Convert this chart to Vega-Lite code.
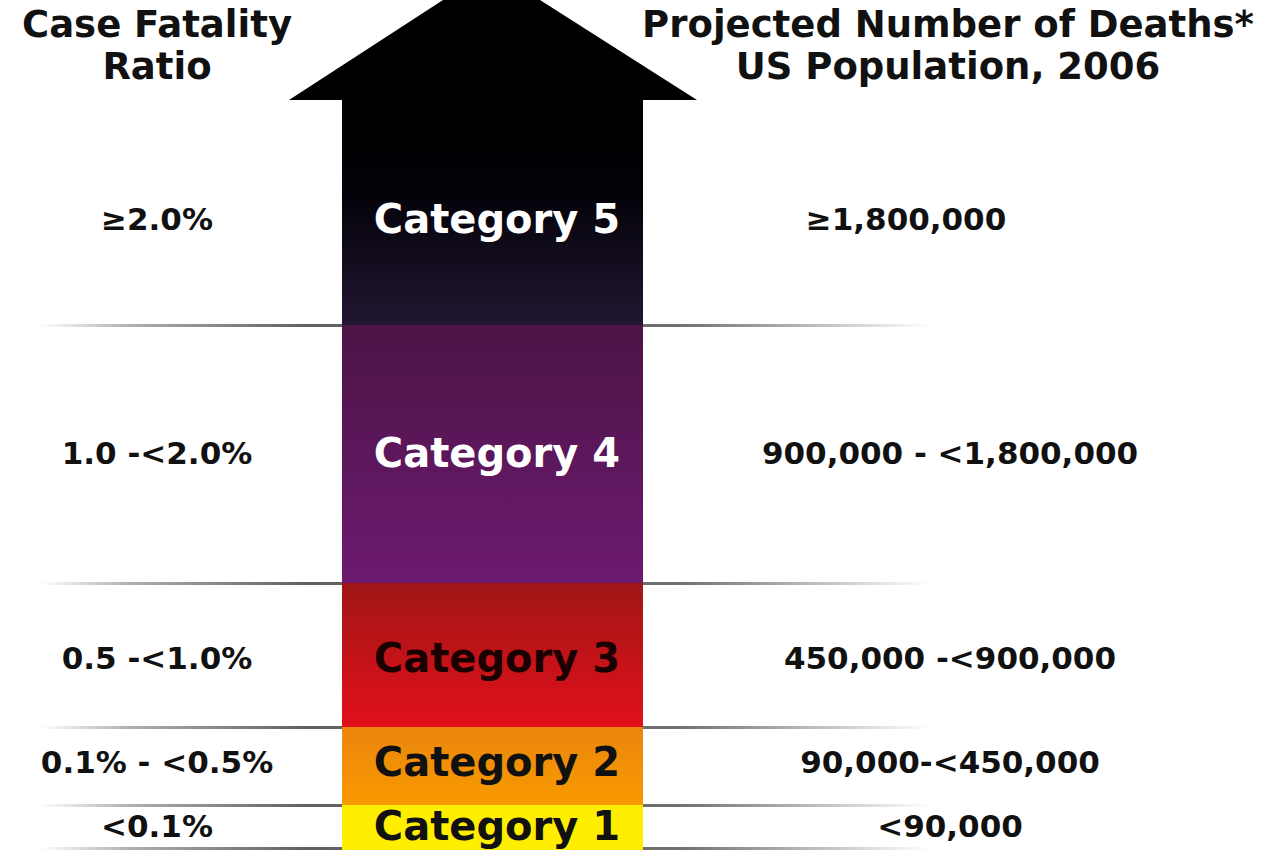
{
  "$schema": "https://vega.github.io/schema/vega-lite/v6.json",
  "width": 1272,
  "height": 850,
  "autosize": {"type": "none"},
  "padding": 0,
  "background": "white",
  "config": {"view": {"stroke": null}},
  "datasets": {
    "cats": [
      {"category": "Category 5", "top": 100, "bottom": 325, "mid": 221, "cfr": "≥2.0%", "deaths": "≥1,800,000"},
      {"category": "Category 4", "top": 325, "bottom": 583, "mid": 455, "cfr": "1.0 -<2.0%", "deaths": "900,000 - <1,800,000"},
      {"category": "Category 3", "top": 583, "bottom": 727, "mid": 660, "cfr": "0.5 -<1.0%", "deaths": "450,000 -<900,000"},
      {"category": "Category 2", "top": 727, "bottom": 805, "mid": 764, "cfr": "0.1% - <0.5%", "deaths": "90,000-<450,000"},
      {"category": "Category 1", "top": 805, "bottom": 850, "mid": 828, "cfr": "<0.1%", "deaths": "<90,000"}
    ],
    "head": [{"x": 289, "y": 100}, {"x": 443, "y": 0}, {"x": 540, "y": 0}, {"x": 697, "y": 100}],
    "lines": [{"y": 324}, {"y": 582}, {"y": 726}, {"y": 804}, {"y": 847}],
    "titles": [
      {"side": "left", "line": 1, "text": "Case Fatality"},
      {"side": "left", "line": 2, "text": "Ratio"},
      {"side": "right", "line": 1, "text": "Projected Number of Deaths*"},
      {"side": "right", "line": 2, "text": "US Population, 2006"}
    ]
  },
  "layer": [
    {
      "data": {"name": "lines"},
      "mark": {"type": "rect", "y2Offset": 3, "fill": {"gradient": "linear", "x1": 0, "y1": 0, "x2": 1, "y2": 0, "stops": [{"offset": 0, "color": "#ffffff"}, {"offset": 0.1, "color": "#b0b0b0"}, {"offset": 0.3, "color": "#606060"}, {"offset": 0.72, "color": "#707070"}, {"offset": 1, "color": "#ffffff"}]}},
      "encoding": {
        "x": {"datum": 40, "type": "quantitative", "scale": {"domain": [0, 1272], "nice": false, "zero": false}, "axis": null},
        "x2": {"datum": 930},
        "y": {"field": "y", "type": "quantitative", "scale": {"domain": [0, 850], "reverse": true, "nice": false, "zero": false}, "axis": null},
        "y2": {"field": "y"}
      }
    },
    {
      "data": {"name": "cats"},
      "transform": [{"filter": "datum.category == 'Category 5'"}],
      "mark": {"type": "rect", "fill": {"gradient": "linear", "x1": 0, "y1": 0, "x2": 0, "y2": 1, "stops": [{"offset": 0, "color": "#000000"}, {"offset": 0.38, "color": "#020106"}, {"offset": 1, "color": "#221632"}]}},
      "encoding": {
        "x": {"datum": 342, "type": "quantitative", "axis": null},
        "x2": {"datum": 643},
        "y": {"field": "top", "type": "quantitative", "axis": null},
        "y2": {"field": "bottom"}
      }
    },
    {
      "data": {"name": "cats"},
      "transform": [{"filter": "datum.category == 'Category 4'"}],
      "mark": {"type": "rect", "fill": {"gradient": "linear", "x1": 0, "y1": 0, "x2": 0, "y2": 1, "stops": [{"offset": 0, "color": "#4c1446"}, {"offset": 1, "color": "#6c1a70"}]}},
      "encoding": {
        "x": {"datum": 342, "type": "quantitative", "axis": null},
        "x2": {"datum": 643},
        "y": {"field": "top", "type": "quantitative", "axis": null},
        "y2": {"field": "bottom"}
      }
    },
    {
      "data": {"name": "cats"},
      "transform": [{"filter": "datum.category == 'Category 3'"}],
      "mark": {"type": "rect", "fill": {"gradient": "linear", "x1": 0, "y1": 0, "x2": 0, "y2": 1, "stops": [{"offset": 0, "color": "#a01616"}, {"offset": 1, "color": "#e2101a"}]}},
      "encoding": {
        "x": {"datum": 342, "type": "quantitative", "axis": null},
        "x2": {"datum": 643},
        "y": {"field": "top", "type": "quantitative", "axis": null},
        "y2": {"field": "bottom"}
      }
    },
    {
      "data": {"name": "cats"},
      "transform": [{"filter": "datum.category == 'Category 2'"}],
      "mark": {"type": "rect", "fill": {"gradient": "linear", "x1": 0, "y1": 0, "x2": 0, "y2": 1, "stops": [{"offset": 0, "color": "#ea860e"}, {"offset": 1, "color": "#f89a00"}]}},
      "encoding": {
        "x": {"datum": 342, "type": "quantitative", "axis": null},
        "x2": {"datum": 643},
        "y": {"field": "top", "type": "quantitative", "axis": null},
        "y2": {"field": "bottom"}
      }
    },
    {
      "data": {"name": "cats"},
      "transform": [{"filter": "datum.category == 'Category 1'"}],
      "mark": {"type": "rect", "fill": "#ffee00"},
      "encoding": {
        "x": {"datum": 342, "type": "quantitative", "axis": null},
        "x2": {"datum": 643},
        "y": {"field": "top", "type": "quantitative", "axis": null},
        "y2": {"field": "bottom"}
      }
    },
    {
      "data": {"name": "head"},
      "mark": {"type": "area", "color": "#000000", "orient": "vertical"},
      "encoding": {
        "x": {"field": "x", "type": "quantitative", "axis": null},
        "y": {"field": "y", "type": "quantitative", "axis": null},
        "y2": {"datum": 100}
      }
    },
    {
      "data": {"name": "cats"},
      "mark": {"type": "text", "font": "DejaVu Sans", "fontWeight": "bold", "fontSize": 40, "baseline": "middle", "align": "center"},
      "encoding": {
        "x": {"datum": 497, "type": "quantitative", "axis": null},
        "y": {"field": "mid", "type": "quantitative", "axis": null},
        "text": {"field": "category"},
        "color": {"field": "category", "type": "nominal", "scale": {"domain": ["Category 5", "Category 4", "Category 3", "Category 2", "Category 1"], "range": ["#ffffff", "#ffffff", "#1a0000", "#111111", "#111111"]}, "legend": null}
      }
    },
    {
      "data": {"name": "cats"},
      "mark": {"type": "text", "font": "DejaVu Sans", "fontWeight": "bold", "fontSize": 31, "baseline": "middle", "align": "center", "color": "#111111"},
      "encoding": {
        "x": {"datum": 157, "type": "quantitative", "axis": null},
        "y": {"field": "mid", "type": "quantitative", "axis": null},
        "text": {"field": "cfr"}
      }
    },
    {
      "data": {"name": "cats"},
      "transform": [{"filter": "datum.category != 'Category 5'"}],
      "mark": {"type": "text", "font": "DejaVu Sans", "fontWeight": "bold", "fontSize": 31, "baseline": "middle", "align": "center", "color": "#111111"},
      "encoding": {
        "x": {"datum": 950, "type": "quantitative", "axis": null},
        "y": {"field": "mid", "type": "quantitative", "axis": null},
        "text": {"field": "deaths"}
      }
    },
    {
      "data": {"name": "cats"},
      "transform": [{"filter": "datum.category == 'Category 5'"}],
      "mark": {"type": "text", "font": "DejaVu Sans", "fontWeight": "bold", "fontSize": 31, "baseline": "middle", "align": "center", "color": "#111111"},
      "encoding": {
        "x": {"datum": 906, "type": "quantitative", "axis": null},
        "y": {"field": "mid", "type": "quantitative", "axis": null},
        "text": {"field": "deaths"}
      }
    },
    {
      "data": {"name": "titles"},
      "transform": [{"filter": "datum.side == 'left' && datum.line == 1"}],
      "mark": {"type": "text", "font": "DejaVu Sans", "fontWeight": "bold", "fontSize": 37, "baseline": "alphabetic", "align": "center", "color": "#111111"},
      "encoding": {
        "x": {"datum": 157, "type": "quantitative", "axis": null},
        "y": {"datum": 37, "type": "quantitative", "axis": null},
        "text": {"field": "text"}
      }
    },
    {
      "data": {"name": "titles"},
      "transform": [{"filter": "datum.side == 'left' && datum.line == 2"}],
      "mark": {"type": "text", "font": "DejaVu Sans", "fontWeight": "bold", "fontSize": 37, "baseline": "alphabetic", "align": "center", "color": "#111111"},
      "encoding": {
        "x": {"datum": 157, "type": "quantitative", "axis": null},
        "y": {"datum": 79, "type": "quantitative", "axis": null},
        "text": {"field": "text"}
      }
    },
    {
      "data": {"name": "titles"},
      "transform": [{"filter": "datum.side == 'right' && datum.line == 1"}],
      "mark": {"type": "text", "font": "DejaVu Sans", "fontWeight": "bold", "fontSize": 37, "baseline": "alphabetic", "align": "center", "color": "#111111"},
      "encoding": {
        "x": {"datum": 948, "type": "quantitative", "axis": null},
        "y": {"datum": 37, "type": "quantitative", "axis": null},
        "text": {"field": "text"}
      }
    },
    {
      "data": {"name": "titles"},
      "transform": [{"filter": "datum.side == 'right' && datum.line == 2"}],
      "mark": {"type": "text", "font": "DejaVu Sans", "fontWeight": "bold", "fontSize": 37, "baseline": "alphabetic", "align": "center", "color": "#111111"},
      "encoding": {
        "x": {"datum": 948, "type": "quantitative", "axis": null},
        "y": {"datum": 79, "type": "quantitative", "axis": null},
        "text": {"field": "text"}
      }
    }
  ]
}
